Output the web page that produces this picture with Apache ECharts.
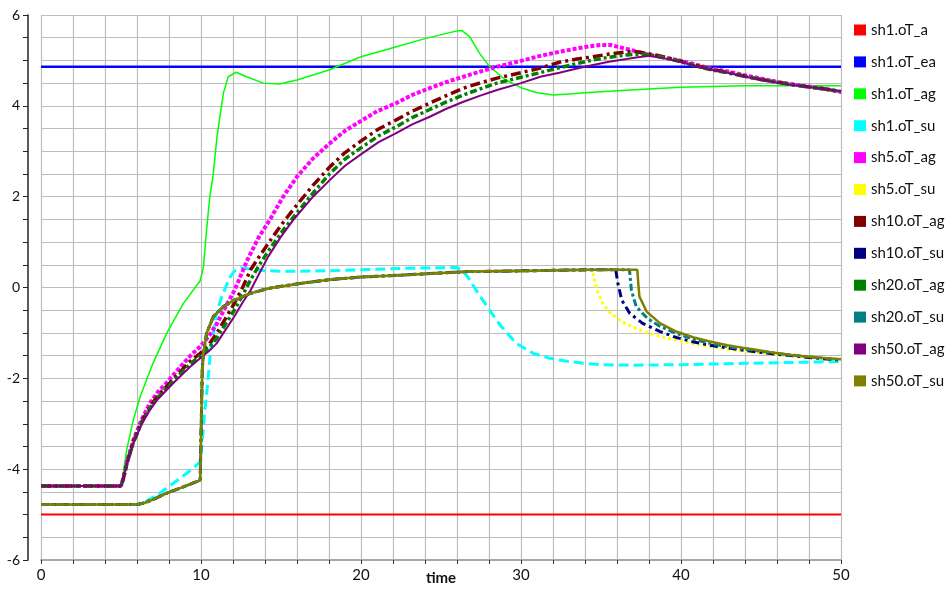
<!DOCTYPE html>
<html>
<head>
<meta charset="utf-8">
<script src="https://cdn.jsdelivr.net/npm/echarts@6/dist/echarts.min.js"></script>
<style>
html,body{margin:0;padding:0;background:#fff;overflow:hidden;}
#chart{width:949px;height:589px;}
</style>
</head>
<body>
<div id="chart"></div>
<script>
// ---- data (time, value) pairs ----
const seriesNames = ['sh1.oT_a','sh1.oT_ea','sh1.oT_ag','sh1.oT_su','sh5.oT_ag','sh5.oT_su','sh10.oT_ag','sh10.oT_su','sh20.oT_ag','sh20.oT_su','sh50.oT_ag','sh50.oT_su'];

const sh1_a  = [[0,-5],[50,-5]];
const sh1_ea = [[0,4.86],[50,4.86]];
const sh1_ag = [[0,-4.37],[5,-4.37],[5.05,-4.3],[5.35,-3.58],[5.77,-2.92],[6.2,-2.4],[7,-1.67],[7.85,-1.01],[8.9,-0.35],[9.95,0.15],[10.15,0.45],[10.35,1.27],[10.55,2.0],[10.75,2.45],[11.0,3.32],[11.4,4.28],[11.7,4.64],[12.2,4.74],[12.85,4.64],[13.9,4.5],[14.9,4.48],[16,4.57],[18,4.79],[20,5.08],[22,5.28],[24,5.48],[26,5.65],[26.3,5.66],[26.8,5.52],[27.4,5.16],[28,4.88],[29,4.58],[30,4.4],[31,4.29],[32,4.24],[33,4.26],[34,4.29],[36,4.33],[38,4.37],[40,4.41],[44,4.44],[50,4.44]];
const sh1_su = [[0,-4.78],[5.9,-4.78],[6.5,-4.72],[7.2,-4.58],[7.85,-4.42],[8.5,-4.25],[9.1,-4.09],[9.6,-3.95],[9.94,-3.84],[10.1,-3.3],[10.2,-2.85],[10.42,-2.11],[10.6,-1.38],[10.94,-0.64],[11.2,-0.3],[11.46,-0.06],[11.8,0.22],[12.08,0.36],[12.5,0.43],[13,0.41],[14,0.37],[15,0.36],[16.2,0.36],[18,0.37],[20,0.39],[22.4,0.42],[24,0.43],[25.98,0.44],[26.3,0.39],[26.7,0.22],[27.2,-0.06],[27.96,-0.46],[28.7,-0.83],[29.7,-1.23],[30.77,-1.45],[31.8,-1.56],[32.8,-1.62],[33.9,-1.67],[35,-1.7],[37,-1.71],[40,-1.7],[44,-1.67],[47,-1.65],[50,-1.63]];
const sh5_ag = [[0,-4.37],[5,-4.37],[5.15,-4.2],[5.4,-3.8],[5.77,-3.36],[6.3,-2.9],[6.8,-2.55],[7.3,-2.3],[7.85,-2.1],[8.4,-1.87],[8.9,-1.67],[9.4,-1.48],[9.95,-1.3],[10.5,-1.07],[11,-0.79],[11.5,-0.45],[12.1,-0.06],[12.9,0.61],[13.6,1.1],[14.3,1.49],[15.1,1.98],[16,2.44],[17,2.84],[18,3.16],[19,3.45],[20.1,3.69],[21,3.88],[22.2,4.06],[23.2,4.24],[24.3,4.39],[25.3,4.52],[26.4,4.64],[27.5,4.76],[28.5,4.86],[30,4.99],[31.2,5.1],[32.4,5.19],[33.3,5.25],[34.1,5.3],[35,5.34],[35.6,5.34],[36.4,5.27],[37.2,5.2],[38.06,5.12],[39,5.06],[39.9,5.0],[40.8,4.92],[41.8,4.83],[43,4.75],[43.9,4.68],[45,4.6],[46,4.53],[47,4.47],[48.1,4.42],[49,4.37],[50,4.31]];
const sh10_ag = [[0,-4.37],[5,-4.37],[5.15,-4.2],[5.4,-3.83],[5.77,-3.4],[6.3,-2.95],[6.8,-2.63],[7.3,-2.38],[7.85,-2.18],[8.4,-1.97],[8.9,-1.78],[9.4,-1.6],[9.95,-1.45],[10.5,-1.25],[10.98,-1.01],[11.5,-0.7],[12.08,-0.35],[12.6,0.0],[13.1,0.39],[13.6,0.66],[14.2,0.97],[15,1.37],[15.35,1.53],[16,1.82],[17,2.25],[18.06,2.66],[19,2.97],[20.1,3.25],[21.1,3.49],[22.2,3.69],[23.2,3.88],[24.3,4.06],[25.3,4.22],[26.4,4.39],[27.5,4.51],[28.5,4.61],[30,4.73],[31.2,4.83],[32.4,4.96],[33.5,5.03],[34.5,5.08],[35.5,5.14],[36.6,5.19],[37.2,5.19],[37.6,5.17],[38.7,5.1],[39.9,4.99],[40.8,4.9],[41.8,4.81],[43,4.73],[44,4.65],[45,4.58],[46,4.52],[47,4.47],[48.1,4.41],[49,4.37],[50,4.31]];
const sh20_ag = [[0,-4.37],[5,-4.37],[5.15,-4.2],[5.4,-3.84],[5.77,-3.42],[6.3,-2.97],[6.8,-2.66],[7.3,-2.42],[7.85,-2.22],[8.4,-2.01],[8.9,-1.83],[9.4,-1.66],[9.95,-1.5],[10.5,-1.32],[10.98,-1.12],[11.5,-0.82],[12.08,-0.5],[12.6,-0.17],[13.1,0.17],[13.6,0.47],[14.2,0.8],[15,1.2],[15.8,1.56],[17,2.08],[18.06,2.51],[19,2.83],[20.1,3.1],[21.1,3.34],[22.2,3.54],[23.2,3.74],[24.3,3.92],[25.3,4.08],[26.4,4.24],[27.5,4.38],[28.5,4.5],[30,4.63],[31.2,4.73],[32.4,4.84],[33.5,4.93],[34.5,5.01],[35.5,5.07],[36.6,5.12],[37.5,5.14],[38.1,5.12],[38.7,5.08],[39.9,4.98],[40.8,4.89],[41.8,4.8],[43,4.72],[44,4.65],[45,4.58],[46,4.52],[47,4.46],[48.1,4.41],[49,4.37],[50,4.31]];
const sh50_ag = [[0,-4.37],[5,-4.37],[5.15,-4.2],[5.4,-3.85],[5.77,-3.43],[6.3,-3.0],[6.8,-2.7],[7.3,-2.46],[7.85,-2.26],[8.4,-2.06],[8.9,-1.89],[9.4,-1.72],[9.95,-1.56],[10.5,-1.4],[10.98,-1.23],[11.5,-0.95],[12.08,-0.64],[12.6,-0.33],[13.1,-0.06],[13.6,0.28],[14.2,0.68],[15,1.12],[15.77,1.49],[17,2.0],[18.06,2.37],[19,2.68],[20.1,2.96],[21.1,3.2],[22.2,3.4],[23.2,3.59],[24.3,3.76],[25.3,3.93],[26.4,4.09],[27.5,4.23],[28.5,4.35],[30,4.5],[31.2,4.64],[32.4,4.73],[33.5,4.82],[34.5,4.9],[35.5,4.97],[36.6,5.03],[37.3,5.07],[38.06,5.1],[38.9,5.05],[39.9,4.97],[40.8,4.89],[41.8,4.8],[43,4.72],[44,4.64],[45,4.58],[46,4.51],[47,4.46],[48.1,4.41],[49,4.37],[50,4.32]];
// shared rise of the "su" curves before each one drops
const suRise = [[0,-4.78],[6.0,-4.78],[6.5,-4.74],[7,-4.67],[7.85,-4.53],[8.9,-4.39],[9.95,-4.24],[10.0,-4.2],[10.08,-1.8],[10.15,-1.45],[10.35,-1.01],[10.77,-0.64],[11.4,-0.42],[12.08,-0.28],[13.1,-0.13],[14.2,-0.02],[16.2,0.09],[18,0.17],[20,0.23],[22.4,0.27],[25,0.32],[26.7,0.35],[30.8,0.37],[34.1,0.39]];
const sh5_suDrop  = [[34.45,0.39],[34.6,0.15],[34.75,-0.06],[35.1,-0.35],[35.5,-0.53],[36,-0.68],[36.6,-0.81],[37.5,-0.95],[38.5,-1.06],[39.7,-1.16],[40.8,-1.24],[41.8,-1.3],[43,-1.36],[44.1,-1.41],[45.5,-1.46],[47,-1.51],[48.5,-1.56],[50,-1.6]];
const sh10_suDrop = [[35.92,0.39],[36.05,0.1],[36.3,-0.28],[36.8,-0.57],[37.6,-0.79],[38.7,-0.97],[39.7,-1.1],[40.8,-1.2],[41.8,-1.27],[42.9,-1.33],[44.3,-1.4],[46,-1.47],[48,-1.54],[50,-1.6]];
const sh20_suDrop = [[36.78,0.39],[36.9,-0.06],[37.2,-0.42],[37.9,-0.68],[38.7,-0.86],[39.7,-1.01],[40.8,-1.14],[41.8,-1.23],[42.9,-1.3],[44.3,-1.37],[46,-1.45],[48,-1.53],[50,-1.59]];
const sh50_suDrop = [[37.27,0.39],[37.33,0.09],[37.4,-0.2],[37.85,-0.53],[38.7,-0.79],[39.7,-0.97],[40.8,-1.1],[41.8,-1.19],[42.9,-1.27],[44.1,-1.34],[45.5,-1.42],[47,-1.49],[48.5,-1.54],[50,-1.58]];

const xTicks = {min:0, max:50, step:10};
const yTicks = {min:-6, max:6, step:2};

const sh5_su  = suRise.concat(sh5_suDrop);
const sh10_su = suRise.concat(sh10_suDrop);
const sh20_su = suRise.concat(sh20_suDrop);
const sh50_su = suRise.concat(sh50_suDrop);

const allData = [sh1_a, sh1_ea, sh1_ag, sh1_su, sh5_ag, sh5_su, sh10_ag, sh10_su, sh20_ag, sh20_su, sh50_ag, sh50_su];
const colors = ['#ff0000','#0000ff','#00ff00','#00ffff','#ff00ff','#ffff00','#800000','#000080','#008000','#008080','#800080','#808000'];
const styles = [
  {width:2, type:'solid'},
  {width:2.5, type:'solid'},
  {width:1.5, type:'solid'},
  {width:3, type:[10,5]},
  {width:4, type:[4,2]},
  {width:3, type:[3,3]},
  {width:3.5, type:[10,4,3,4]},
  {width:3, type:[8,4,3,4]},
  {width:3.5, type:[7,3,3,3]},
  {width:3, type:[7,3,3,3]},
  {width:2, type:'solid'},
  {width:2.5, type:'solid'}
];

const FONT = 'Lato';
const chart = echarts.init(document.getElementById('chart'), null, {renderer:'canvas'});
chart.setOption({
  animation:false,
  backgroundColor:'#ffffff',
  color: colors,
  grid:{left:41, right:108, top:15, bottom:29, containLabel:false, outerBoundsMode:'none'},
  legend:{
    orient:'vertical', left:854, top:22, padding:0,
    icon:'rect', itemWidth:12, itemHeight:11, itemGap:15.9,
    itemStyle:{borderWidth:0},
    textStyle:{fontFamily:FONT, fontSize:15, color:'#111', lineHeight:16, padding:[0,0,0,0]},
    data: seriesNames
  },
  xAxis:{
    type:'value', min:xTicks.min, max:xTicks.max, interval:xTicks.step,
    name:'time', nameLocation:'middle', nameGap:11, nameMoveOverlap:false,
    nameTextStyle:{fontFamily:FONT, fontWeight:'bold', fontSize:15, color:'#111'},
    axisLine:{show:true, onZero:false, lineStyle:{color:'#a8a8a8', width:2}},
    axisTick:{show:true, length:4, lineStyle:{color:'#333', width:1}},
    minorTick:{show:true, splitNumber:5, length:4, lineStyle:{color:'#333', width:1}},
    axisLabel:{fontFamily:FONT, fontSize:15, color:'#111', margin:8},
    splitLine:{show:true, lineStyle:{color:'#bdbdbd', width:1.2}},
    minorSplitLine:{show:true, lineStyle:{color:'#bdbdbd', width:1.2}}
  },
  yAxis:{
    type:'value', min:yTicks.min, max:yTicks.max, interval:yTicks.step, offset:13,
    axisLine:{show:true, onZero:false, lineStyle:{color:'#222', width:1.5}},
    axisTick:{show:true, length:5, lineStyle:{color:'#222', width:1}},
    minorTick:{show:true, splitNumber:4, length:5, lineStyle:{color:'#222', width:1}},
    axisLabel:{fontFamily:FONT, fontSize:14, color:'#111', margin:8},
    splitLine:{show:true, lineStyle:{color:'#bdbdbd', width:1.2}},
    minorSplitLine:{show:true, lineStyle:{color:'#bdbdbd', width:1.2}}
  },
  series: seriesNames.map((n,i)=>({
    name:n, type:'line', data:allData[i], showSymbol:false, symbol:'none',
    lineStyle:{color:colors[i], width:styles[i].width, type:styles[i].type},
    itemStyle:{color:colors[i]},
    z: 2 + i
  }))
});
</script>
</body>
</html>
